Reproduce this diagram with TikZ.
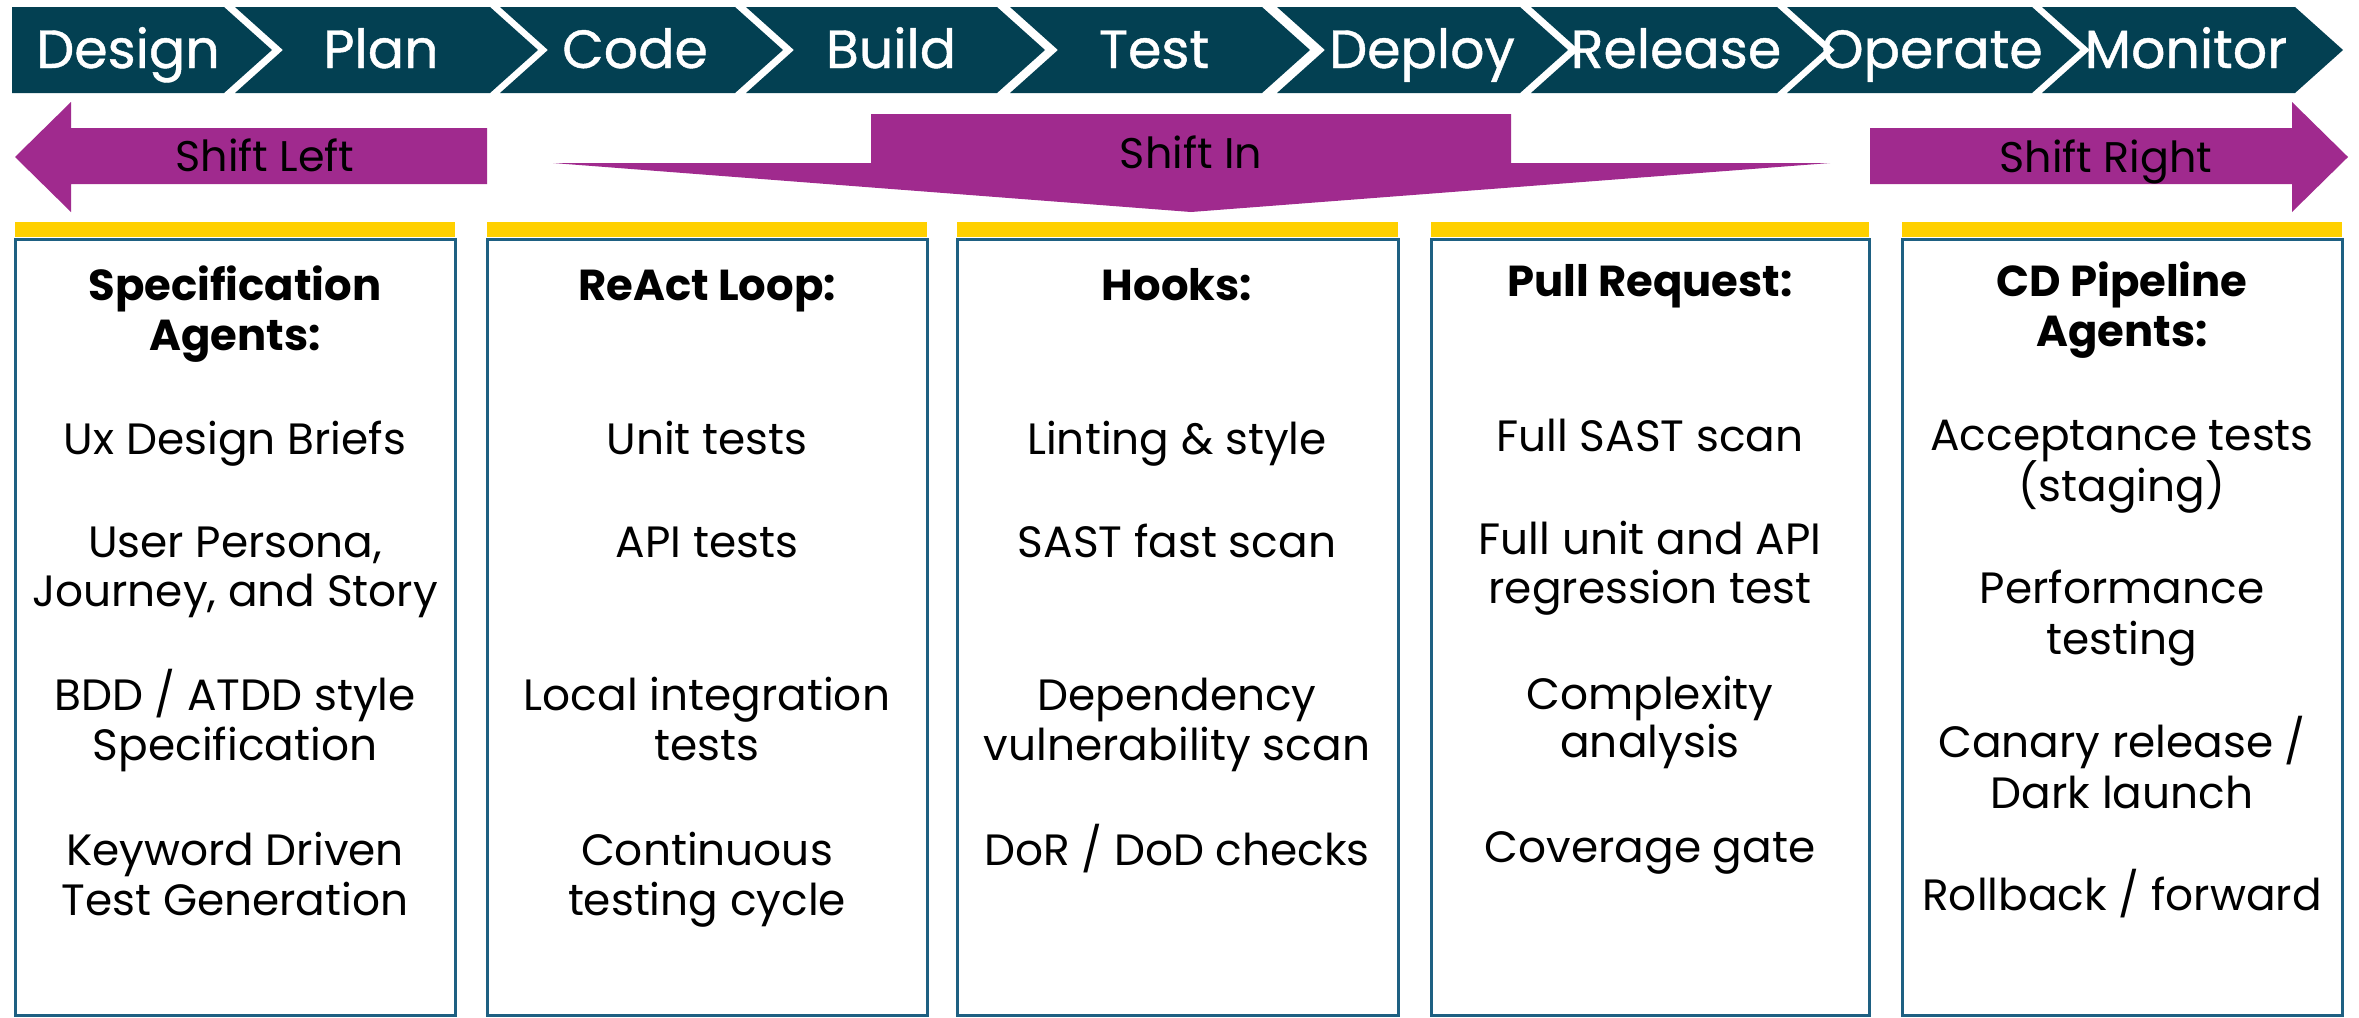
\documentclass[tikz,border=0pt]{standalone}
\usepackage{fontspec}
\setmainfont{Poppins}
\newfontfamily\chevfont{Poppins}[FakeBold=0.8]
\definecolor{chev}{RGB}{3,64,82}
\definecolor{shiftpurple}{RGB}{160,42,142}
\definecolor{baryellow}{RGB}{255,208,0}
\definecolor{boxblue}{RGB}{30,96,130}
\begin{document}
\begin{tikzpicture}[x=1bp,y=-1bp,
  chevron/.style={fill=chev,draw=none},
  chevlbl/.style={text=white,font=\chevfont\fontsize{54}{60}\selectfont,anchor=base,inner sep=0pt},
  shiftshape/.style={fill=shiftpurple,draw=none},
  shiftlbl/.style={text=black,font=\fontsize{43}{48}\selectfont,anchor=base,inner sep=0pt},
  colbox/.style={draw=boxblue,line width=3bp,fill=white},
  topbar/.style={fill=baryellow,draw=none},
  body/.style={text=black,font=\fontsize{44}{50}\selectfont,anchor=base,inner sep=0pt},
  head/.style={text=black,font=\fontsize{43.5}{50}\selectfont\bfseries,anchor=base,inner sep=0pt}]
\useasboundingbox (0,0) rectangle (2359,1017);
\fill[white] (0,0) rectangle (2359,1017);

% chevrons
\fill[chevron] (12,7) -- (224,7) -- (272,50) -- (224,93) -- (12,93) -- cycle;
\foreach \L/\R in {235/490,500/735,746/997,1010/1262,1277/1520,1531/1777,1787/2032,2042/2295}
  \fill[chevron] (\L,7) -- (\R,7) -- (\R+48,50) -- (\R,93) -- (\L,93) -- (\L+48,50) -- cycle;
\node[chevlbl] (design) at (128,68) {Design};
\node[chevlbl] (plan) at (381,68) {Plan};
\node[chevlbl] (code) at (635,68) {Code};
\node[chevlbl] (build) at (891,68) {Build};
\node[chevlbl] (test) at (1154,68) {Test};
\node[chevlbl] (deploy) at (1422,68) {Deploy};
\node[chevlbl] (release) at (1676,68) {Release};
\node[chevlbl] (operate) at (1932,68) {Operate};
\node[chevlbl] (monitor) at (2186,68) {Monitor};

% shift arrows
\fill[shiftshape] (15,157) -- (71,102) -- (71,128) -- (487,128) -- (487,184) -- (71,184) -- (71,212) -- cycle;
\fill[shiftshape] (1870,128) -- (2292,128) -- (2292,102) -- (2348,157) -- (2292,212) -- (2292,184) -- (1870,184) -- cycle;
\fill[shiftshape] (553,163) -- (871,163) -- (871,114) -- (1511,114) -- (1511,163) -- (1830,163) -- (1191,212) -- cycle;
\node[shiftlbl] (sleft) at (265,171) {Shift Left};
\node[shiftlbl] (sin) at (1191,168) {Shift In};
\node[shiftlbl] (sright) at (2106,172) {Shift Right};

% columns
\foreach \a/\b in {15/455,487/927,957/1398,1431/1869,1902/2342}{
  \fill[topbar] (\a,222) rectangle (\b,237);
  \draw[colbox] (\a,239.5) rectangle (\b,1015);
}

% column 1
\node[head] (c1h1) at (235,300) {Specification};
\node[head] (c1h2) at (235,350) {Agents:};
\node[body] (c1a) at (235,454) {Ux Design Briefs};
\node[body] (c1b1) at (235,557) {User Persona,};
\node[body] (c1b2) at (235,606) {Journey, and Story};
\node[body] (c1c1) at (235,710) {BDD / ATDD style};
\node[body] (c1c2) at (235,760) {Specification};
\node[body] (c1d1) at (235,865) {Keyword Driven};
\node[body] (c1d2) at (235,915) {Test Generation};

% column 2
\node[head] (c2h) at (707,300) {ReAct Loop:};
\node[body] (c2a) at (707,454) {Unit tests};
\node[body] (c2b) at (707,557) {API tests};
\node[body] (c2c1) at (707,710) {Local integration};
\node[body] (c2c2) at (707,760) {tests};
\node[body] (c2d1) at (707,865) {Continuous};
\node[body] (c2d2) at (707,915) {testing cycle};

% column 3
\node[head] (c3h) at (1177,300) {Hooks:};
\node[body] (c3a) at (1177,454) {Linting \& style};
\node[body] (c3b) at (1177,557) {SAST fast scan};
\node[body] (c3c1) at (1177,710) {Dependency};
\node[body] (c3c2) at (1177,760) {vulnerability scan};
\node[body] (c3d) at (1177,865) {DoR / DoD checks};

% column 4
\node[head] (c4h) at (1650,296) {Pull Request:};
\node[body] (c4a) at (1650,451) {Full SAST scan};
\node[body] (c4b1) at (1650,554) {Full unit and API};
\node[body] (c4b2) at (1650,603) {regression test};
\node[body] (c4c1) at (1650,709) {Complexity};
\node[body] (c4c2) at (1650,757) {analysis};
\node[body] (c4d) at (1650,862) {Coverage gate};

% column 5
\node[head] (c5h1) at (2122,296) {CD Pipeline};
\node[head] (c5h2) at (2122,346) {Agents:};
\node[body] (c5a1) at (2122,450) {Acceptance tests};
\node[body] (c5a2) at (2122,501) {(staging)};
\node[body] (c5b1) at (2122,603) {Performance};
\node[body] (c5b2) at (2122,654) {testing};
\node[body] (c5c1) at (2122,757) {Canary release /};
\node[body] (c5c2) at (2122,808) {Dark launch};
\node[body] (c5d) at (2122,910) {Rollback / forward};
\end{tikzpicture}
\end{document}
